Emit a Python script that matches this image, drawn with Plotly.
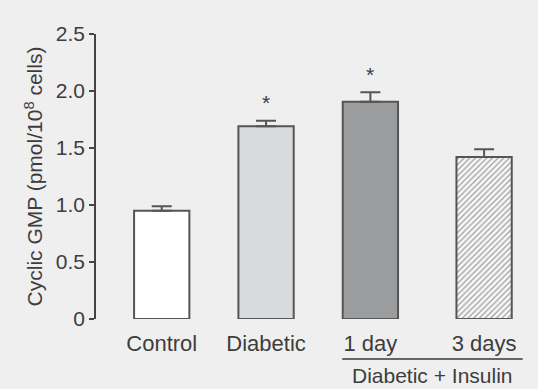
import plotly.graph_objects as go

categories = ["Control", "Diabetic", "1 day", "3 days"]
positions = [1.0, 2.0, 3.0, 4.09]
values = [0.95, 1.69, 1.905, 1.42]
errors = [0.04, 0.05, 0.085, 0.07]
colors = ["#ffffff", "#d9dadb", "#9b9c9d", "#f7f7f7"]
patterns = ["", "", "", "/"]
stars = ["", "*", "*", ""]
ytick_vals = [0, 0.5, 1.0, 1.5, 2.0, 2.5]
ytick_text = ["0", "0.5", "1.0", "1.5", "2.0", "2.5"]

FONT = "Liberation Sans, Arial, sans-serif"
TXT = "#3d3d3d"
EDGE = "#555555"

fig = go.Figure()
fig.add_trace(go.Bar(
    x=positions, y=values, width=0.53,
    marker=dict(color=colors, line=dict(color=EDGE, width=2),
                pattern=dict(shape=patterns, fgcolor="#bdbdbd", bgcolor="#f7f7f7",
                             size=4, solidity=0.3)),
    error_y=dict(type="data", array=errors, arrayminus=[0]*4, symmetric=False,
                 color=EDGE, thickness=2, width=10),
    showlegend=False,
))

for p, v, e, s in zip(positions, values, errors, stars):
    if s:
        fig.add_annotation(x=p, y=v + e, text=s, showarrow=False, yshift=18,
                           font=dict(family=FONT, size=21, color=TXT), yanchor="middle")

# Group bracket
fig.add_shape(type="line", xref="x", yref="paper", x0=2.73, x1=4.46, y0=-0.14, y1=-0.14,
              line=dict(color="#666666", width=2))
fig.add_annotation(x=(2.73 + 4.46) / 2, y=-0.2456, xref="x", yref="paper",
                   text="Diabetic + Insulin", showarrow=False, yanchor="bottom",
                   font=dict(family=FONT, size=21, color=TXT))

fig.update_layout(
    width=538, height=389,
    margin=dict(l=96, r=8, t=34, b=70),
    paper_bgcolor="#efefef", plot_bgcolor="#efefef",
    font=dict(family=FONT, color=TXT),
    xaxis=dict(range=[0.37, 4.53], tickvals=positions, ticktext=categories,
               showgrid=False, zeroline=False, showline=False, ticks="",
               tickfont=dict(size=22, color=TXT), ticklabelstandoff=9),
    yaxis=dict(range=[0, 2.5], tickvals=ytick_vals, ticktext=ytick_text,
               showgrid=False, zeroline=False, showline=True, linecolor="#444444",
               linewidth=1.5, ticks="outside", ticklen=5, tickcolor="#444444",
               tickwidth=1.5, tickfont=dict(size=21, color=TXT),
               title=dict(text="Cyclic GMP (pmol/10<sup>8</sup> cells)",
                          font=dict(size=21, color=TXT), standoff=7)),
)

fig.write_html("out.html")
